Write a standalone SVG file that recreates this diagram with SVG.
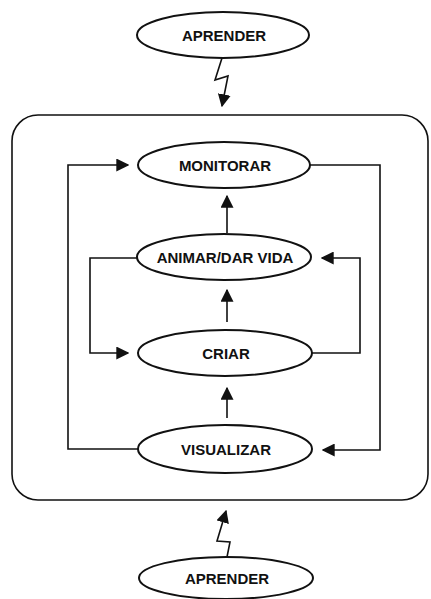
<svg xmlns="http://www.w3.org/2000/svg" width="431" height="599" viewBox="0 0 431 599">
<defs>
<marker id="ah" viewBox="0 0 10 10" refX="9" refY="5" markerWidth="13" markerHeight="13" markerUnits="userSpaceOnUse" orient="auto">
<path d="M0,0 L10,5 L0,10 z" fill="#111"/>
</marker>
</defs>
<style>
.n ellipse{fill:#fff;stroke:#111;stroke-width:2}
.n text{font-family:"Liberation Sans",Arial,sans-serif;font-weight:bold;font-size:15px;fill:#111;text-anchor:middle}
.c path{fill:none;stroke:#111;stroke-width:1.6}
.c .a{marker-end:url(#ah)}
</style>
<rect id="frame" x="12" y="115" width="416" height="385" rx="26" ry="26" fill="none" stroke="#111" stroke-width="1.6"/>
<g class="c" id="connectors">
<path class="a" d="M222,58 L215,80 L228,76 L222,106"/>
<path class="a" d="M227,557 L230,542 L217,541 L226,511"/>
<path class="a" d="M138,449 L68,449 L68,165 L128,165"/>
<path class="a" d="M310,165 L380,165 L380,450 L323,450"/>
<path class="a" d="M138,258 L90,258 L90,353 L128,353"/>
<path class="a" d="M312,353 L360,353 L360,258 L322,258"/>
<path class="a" d="M227,233 L227,196"/>
<path class="a" d="M227,322 L227,290"/>
<path class="a" d="M227,418 L227,388"/>
</g>
<g class="n" id="aprender-top"><ellipse cx="223" cy="35" rx="86" ry="23"/><text x="224" y="41">APRENDER</text></g>
<g class="n" id="monitorar"><ellipse cx="224" cy="165" rx="86" ry="23"/><text x="225" y="171">MONITORAR</text></g>
<g class="n" id="animar"><ellipse cx="224" cy="257" rx="87" ry="23"/><text x="225" y="263">ANIMAR/DAR VIDA</text></g>
<g class="n" id="criar"><ellipse cx="225" cy="353" rx="87" ry="23"/><text x="226" y="359">CRIAR</text></g>
<g class="n" id="visualizar"><ellipse cx="225" cy="449" rx="87" ry="24"/><text x="226" y="455">VISUALIZAR</text></g>
<g class="n" id="aprender-bottom"><ellipse cx="226" cy="578" rx="87" ry="21"/><text x="227" y="584">APRENDER</text></g>
</svg>
